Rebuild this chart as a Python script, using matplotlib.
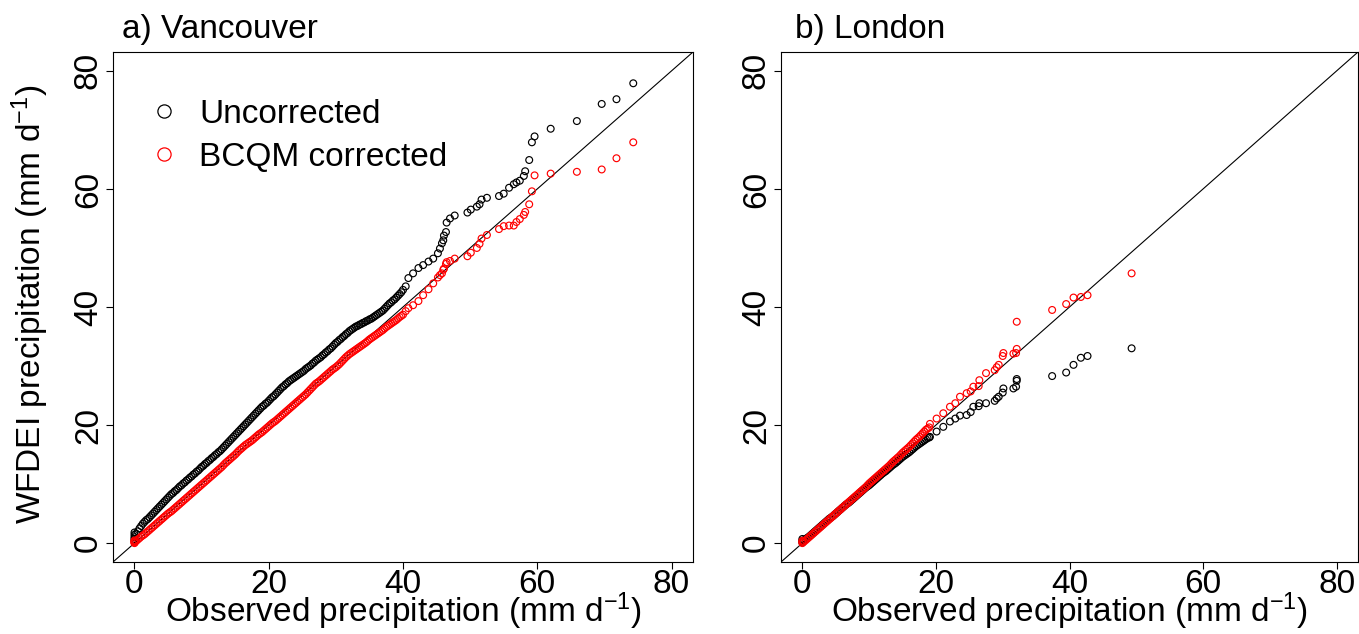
import matplotlib
matplotlib.use("Agg")
import matplotlib.pyplot as plt
from matplotlib.lines import Line2D

plt.rcParams['font.family'] = ['Liberation Sans', 'DejaVu Sans']
plt.rcParams['mathtext.fontset'] = 'custom'
plt.rcParams['mathtext.rm'] = 'Liberation Sans'
plt.rcParams['mathtext.it'] = 'Liberation Sans'

# ---------------- Vancouver (observed quantiles shared by both series) ----------------
van_obs = [0, 0, 0, 0, 0,
    0.25, 0.5, 0.75, 1.0, 1.25, 1.5, 1.75, 2.0, 2.25, 2.5,
    2.75, 3.0, 3.25, 3.5, 3.75, 4.0, 4.25, 4.5, 4.75, 5.0,
    5.25, 5.5, 5.75, 6.0, 6.25, 6.5, 6.75, 7.0, 7.25, 7.5,
    7.75, 8.0, 8.25, 8.5, 8.75, 9.0, 9.25, 9.5, 9.75, 10.0,
    10.25, 10.5, 10.75, 11.0, 11.25, 11.5, 11.75, 12.0, 12.25, 12.5,
    12.75, 13.0, 13.25, 13.5, 13.75, 14.0, 14.25, 14.5, 14.75, 15.0,
    15.25, 15.5, 15.75, 16.0, 16.25, 16.5, 16.75, 17.0, 17.25, 17.5,
    17.75, 18.0, 18.25, 18.5, 18.75, 19.0, 19.25, 19.5, 19.75, 20.0,
    20.25, 20.5, 20.75, 21.0, 21.25, 21.5, 21.75, 22.0, 22.25, 22.5,
    22.75, 23.0, 23.25, 23.5, 23.75, 24.0, 24.25, 24.5, 24.75, 25.0,
    25.25, 25.5, 25.75, 26.0, 26.25, 26.5, 26.75, 27.0, 27.25, 27.5,
    27.75, 28.0, 28.25, 28.5, 28.75, 29.0, 29.25, 29.5, 29.75, 30.0,
    30.25, 30.5, 30.75, 31.0, 31.25, 31.5, 31.75, 32.0, 32.25, 32.5,
    32.75, 33.0, 33.25, 33.5, 33.75, 34.0, 34.25, 34.5, 34.75, 35.0,
    35.25, 35.5, 35.75, 36.0, 36.25, 36.5, 36.75, 37.0, 37.25, 37.5,
    37.75, 38.0, 38.25, 38.5, 38.75, 39.0, 39.25, 39.5, 39.75, 40.0,
    40.4, 40.8, 41.5, 42.3, 43.0, 43.8, 44.5, 45.2, 45.5, 45.8,
    46.0, 46.1, 46.4, 46.5, 47.0, 47.7, 49.6, 50.1, 51.0, 51.4,
    51.7, 52.5, 54.3, 55.0, 55.8, 56.5, 56.9, 57.4, 58.0, 58.2,
    58.8, 59.2, 59.6, 62.0, 65.9, 69.6, 71.8, 74.3]
van_uncorrected = [0.4, 0.7, 1.0, 1.4, 1.8,
    1.6, 2.0, 2.5, 2.9, 3.3, 3.6, 3.9, 4.1, 4.4, 4.7,
    5.0, 5.3, 5.6, 5.9, 6.2, 6.5, 6.8, 7.1, 7.4, 7.7,
    8.0, 8.3, 8.5, 8.8, 9.0, 9.3, 9.6, 9.8, 10.1, 10.3,
    10.6, 10.8, 11.1, 11.3, 11.6, 11.8, 12.1, 12.3, 12.6, 12.9,
    13.1, 13.4, 13.6, 13.9, 14.1, 14.4, 14.6, 14.9, 15.1, 15.4,
    15.6, 15.9, 16.2, 16.5, 16.8, 17.1, 17.4, 17.7, 18.0, 18.3,
    18.6, 18.9, 19.2, 19.5, 19.8, 20.1, 20.4, 20.7, 21.0, 21.3,
    21.6, 21.9, 22.2, 22.5, 22.8, 23.1, 23.3, 23.6, 23.8, 24.1,
    24.4, 24.7, 24.9, 25.2, 25.5, 25.8, 26.1, 26.4, 26.6, 26.9,
    27.1, 27.4, 27.6, 27.8, 28.0, 28.2, 28.4, 28.6, 28.8, 29.0,
    29.2, 29.5, 29.7, 29.9, 30.1, 30.4, 30.6, 30.9, 31.1, 31.3,
    31.5, 31.8, 32.0, 32.3, 32.5, 32.8, 33.0, 33.3, 33.6, 33.9,
    34.1, 34.4, 34.6, 34.9, 35.1, 35.4, 35.6, 35.9, 36.1, 36.3,
    36.5, 36.7, 36.8, 37.0, 37.1, 37.3, 37.4, 37.6, 37.7, 37.9,
    38.0, 38.2, 38.4, 38.6, 38.8, 39.0, 39.2, 39.4, 39.7, 40.0,
    40.3, 40.6, 40.8, 41.1, 41.3, 41.6, 41.9, 42.2, 42.5, 42.9,
    43.5, 44.9, 45.7, 46.6, 47.1, 47.7, 48.2, 49.1, 49.9, 50.8,
    51.3, 52.1, 52.7, 54.3, 55.0, 55.5, 56.0, 56.5, 57.0, 57.4,
    58.2, 58.5, 58.8, 59.2, 60.2, 60.8, 61.1, 61.4, 62.2, 63.0,
    64.9, 67.9, 68.9, 70.2, 71.5, 74.4, 75.2, 77.9]
van_bcqm = [0.0, 0.1, 0.2, 0.3, 0.45,
    0.35, 0.6, 0.85, 1.1, 1.3, 1.5, 1.75, 2.0, 2.25, 2.5,
    2.75, 3.0, 3.25, 3.5, 3.75, 4.0, 4.25, 4.5, 4.75, 5.0,
    5.2, 5.4, 5.65, 5.9, 6.15, 6.4, 6.65, 6.9, 7.15, 7.4,
    7.65, 7.9, 8.15, 8.4, 8.65, 8.9, 9.15, 9.4, 9.65, 9.9,
    10.15, 10.4, 10.65, 10.9, 11.15, 11.4, 11.65, 11.9, 12.15, 12.4,
    12.65, 12.9, 13.2, 13.5, 13.75, 14.0, 14.25, 14.5, 14.75, 15.0,
    15.3, 15.6, 15.85, 16.1, 16.35, 16.6, 16.8, 17.0, 17.2, 17.4,
    17.65, 17.9, 18.15, 18.4, 18.6, 18.8, 19.05, 19.3, 19.55, 19.8,
    20.05, 20.3, 20.5, 20.7, 20.95, 21.2, 21.45, 21.7, 21.95, 22.2,
    22.45, 22.7, 22.95, 23.2, 23.45, 23.7, 23.95, 24.2, 24.45, 24.7,
    24.95, 25.2, 25.5, 25.8, 26.1, 26.4, 26.7, 27.0, 27.2, 27.4,
    27.65, 27.9, 28.15, 28.4, 28.65, 28.9, 29.15, 29.4, 29.6, 29.8,
    30.05, 30.3, 30.6, 30.9, 31.2, 31.5, 31.75, 32.0, 32.2, 32.4,
    32.6, 32.8, 33.0, 33.2, 33.4, 33.6, 33.8, 34.0, 34.25, 34.5,
    34.7, 34.9, 35.1, 35.3, 35.5, 35.7, 35.9, 36.1, 36.35, 36.6,
    36.8, 37.0, 37.2, 37.4, 37.6, 37.8, 38.05, 38.3, 38.5, 38.7,
    39.3, 39.8, 40.3, 41.0, 42.0, 43.0, 44.0, 45.0, 45.4, 45.7,
    46.3, 46.5, 47.3, 47.6, 47.8, 48.2, 48.6, 49.2, 50.0, 50.7,
    51.6, 52.2, 53.2, 53.7, 53.8, 53.8, 54.4, 54.9, 55.6, 56.1,
    57.4, 59.6, 62.3, 62.6, 62.9, 63.3, 65.2, 67.9]

# ---------------- London ----------------
lon_obs = [0, 0, 0,
    0.25, 0.5, 0.75, 1.0, 1.25, 1.5, 1.75, 2.0, 2.25, 2.5,
    2.75, 3.0, 3.25, 3.5, 3.75, 4.0, 4.25, 4.5, 4.75, 5.0,
    5.25, 5.5, 5.75, 6.0, 6.25, 6.5, 6.75, 7.0, 7.25, 7.5,
    7.75, 8.0, 8.25, 8.5, 8.75, 9.0, 9.25, 9.5, 9.75, 10.0,
    10.25, 10.5, 10.75, 11.0, 11.25, 11.5, 11.75, 12.0, 12.25, 12.5,
    12.75, 13.0, 13.25, 13.5, 13.75, 14.0, 14.25, 14.5, 14.75, 15.0,
    15.25, 15.5, 15.75, 16.0, 16.25, 16.5, 16.75, 17.0, 17.25, 17.5,
    17.75, 18.0, 18.25, 18.5, 18.75, 19.0,
    19.1, 20.1, 21.1, 22.1, 22.9, 23.6, 24.6, 25.2, 25.6, 26.4,
    26.5, 27.5, 28.8, 29.1, 29.4, 30.0, 30.1, 31.6, 32.0, 32.1,
    32.1, 37.4, 39.5, 40.6, 41.7, 42.7, 49.3]
lon_uncorrected = [0.1, 0.4, 0.7,
    0.45, 0.7, 0.9, 1.1, 1.35, 1.6, 1.85, 2.1, 2.35, 2.6,
    2.85, 3.1, 3.35, 3.6, 3.85, 4.1, 4.3, 4.5, 4.75, 5.0,
    5.25, 5.5, 5.75, 6.0, 6.25, 6.5, 6.7, 6.9, 7.15, 7.4,
    7.65, 7.9, 8.15, 8.4, 8.65, 8.9, 9.15, 9.4, 9.6, 9.8,
    10.05, 10.3, 10.55, 10.8, 11.05, 11.3, 11.55, 11.8, 12.0, 12.2,
    12.45, 12.7, 12.95, 13.2, 13.4, 13.6, 13.85, 14.1, 14.35, 14.6,
    14.8, 15.0, 15.2, 15.4, 15.65, 15.9, 16.15, 16.4, 16.6, 16.8,
    17.0, 17.2, 17.4, 17.6, 17.8, 17.9,
    18.0, 18.9, 19.7, 20.6, 21.1, 21.6, 21.7, 22.2, 23.1, 23.2,
    23.7, 23.7, 24.1, 24.5, 24.8, 25.5, 26.2, 26.2, 26.5, 27.5,
    27.8, 28.3, 28.9, 30.2, 31.4, 31.7, 33.0]
lon_bcqm = [0.0, 0.2, 0.4,
    0.25, 0.5, 0.75, 1.0, 1.25, 1.5, 1.75, 2.0, 2.25, 2.5,
    2.75, 3.0, 3.25, 3.5, 3.75, 4.0, 4.25, 4.5, 4.75, 5.0,
    5.25, 5.5, 5.75, 6.0, 6.25, 6.5, 6.75, 7.0, 7.25, 7.5,
    7.75, 8.0, 8.25, 8.5, 8.75, 9.0, 9.25, 9.5, 9.8, 10.1,
    10.35, 10.6, 10.85, 11.1, 11.35, 11.6, 11.85, 12.1, 12.35, 12.6,
    12.85, 13.1, 13.4, 13.7, 13.95, 14.2, 14.45, 14.7, 15.0, 15.3,
    15.55, 15.8, 16.05, 16.3, 16.6, 16.9, 17.2, 17.5, 17.75, 18.0,
    18.3, 18.6, 18.9, 19.2, 19.4, 19.6,
    20.2, 21.1, 22.0, 23.1, 23.7, 24.8, 25.4, 25.7, 26.5, 26.6,
    27.6, 28.8, 29.3, 29.8, 30.2, 31.7, 32.2, 32.1, 32.2, 32.9,
    37.5, 39.5, 40.5, 41.6, 41.7, 42.0, 45.7]

ticks = [0, 20, 40, 60, 80]
lims = (-3.2, 83.2)

W, H = 1359, 634
fig = plt.figure(figsize=(W / 100, H / 100), dpi=100)

def px_axes(x0, x1, y0, y1):
    return fig.add_axes([x0 / W, 1 - y1 / H, (x1 - x0) / W, (y1 - y0) / H])

ax_a = px_axes(113, 693, 52, 562)
ax_b = px_axes(781, 1358, 52, 562)

FS = 24
XLAB = r'Observed precipitation (mm d$^{-1}$)'
for ax, obs, unc, bc in [(ax_a, van_obs, van_uncorrected, van_bcqm),
                         (ax_b, lon_obs, lon_uncorrected, lon_bcqm)]:
    ax.plot(lims, lims, color='black', lw=0.8, zorder=1)
    ax.scatter(obs, unc, s=24, facecolors='none', edgecolors='black', linewidths=0.85, zorder=2)
    ax.scatter(obs, bc, s=24, facecolors='none', edgecolors='red', linewidths=0.85, zorder=3)
    ax.set_xlim(lims)
    ax.set_ylim(lims)
    ax.set_xticks(ticks)
    ax.set_yticks(ticks)
    ax.tick_params(direction='out', length=4.8, width=0.8, labelsize=FS)
    ax.tick_params(axis='x', pad=0)
    ax.tick_params(axis='y', pad=1.7)
    for lab in ax.get_yticklabels():
        lab.set_rotation(90)
        lab.set_va('center')
    for sp in ax.spines.values():
        sp.set_linewidth(0.8)

fig.text(403 / W, 1 - 622 / H, XLAB, fontsize=FS, ha='center', va='baseline')
fig.text(1069.5 / W, 1 - 622 / H, XLAB, fontsize=FS, ha='center', va='baseline')
fig.text(30 / W, 1 - 304 / H, r'WFDEI precipitation (mm d$^{-1}$)', fontsize=FS,
         ha='center', va='center', rotation=90)

fig.text(122 / W, 1 - 38 / H, 'a) Vancouver', fontsize=FS, va='baseline', ha='left')
fig.text(795 / W, 1 - 38 / H, 'b) London', fontsize=FS, va='baseline', ha='left')

# legend
handles = [Line2D([], [], marker='o', ls='none', mfc='none', mec='black', ms=9.5, mew=0.9),
           Line2D([], [], marker='o', ls='none', mfc='none', mec='red', ms=9.5, mew=0.9)]
ax_a.legend(handles, ['Uncorrected', 'BCQM corrected'], loc='upper left',
            bbox_to_anchor=(0.0534, 0.9086), frameon=False, fontsize=FS,
            handletextpad=0.45, handlelength=1.2, labelspacing=0.36, borderpad=0,
            borderaxespad=0)

fig.savefig('out.png', dpi=100)
